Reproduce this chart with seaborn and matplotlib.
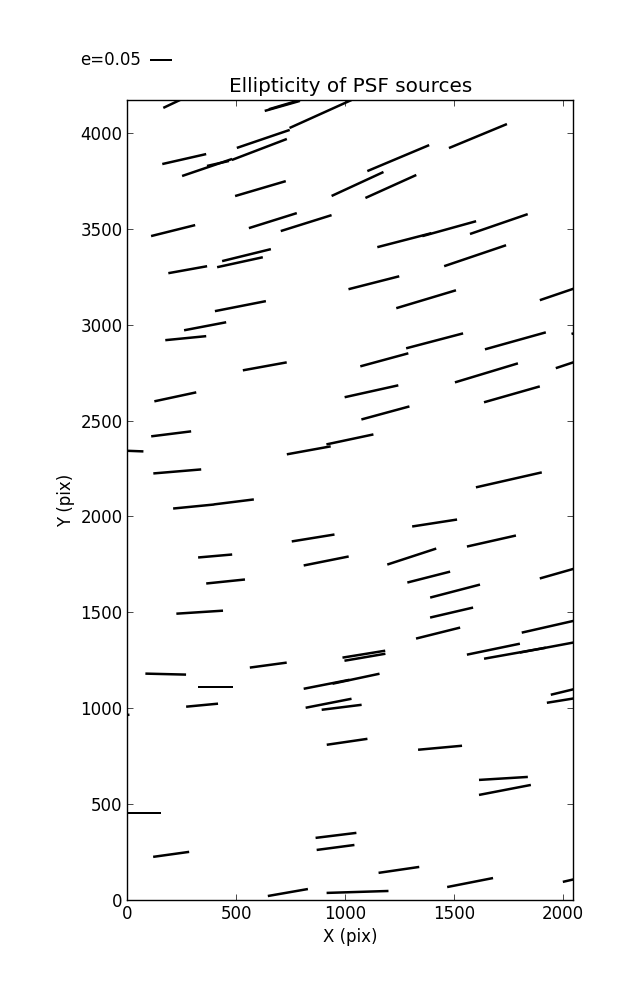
import numpy as np
import matplotlib
matplotlib.use('Agg')
import matplotlib.pyplot as plt
import seaborn as sns

# positions of the PSF stars on the chip (pix)
src_x = [208, 711, 728, 887, 624, 261, 366, 416, 606, 611,
         1057, 210, 668, 821, 277, 547, 517, 1132, 1610, 1244,
         1210, 1272, 1478, 1706, 1597, 1372, 1995, 519, 357, 268,
         631, 220, 201, 14, 229, 833, 1022, 304, 489, 1121,
         1411, 1180, 1782, 2155, 1649, 2043, 1766, 1185, 1752, 403,
         853, 913, 451, 332, 176, 405, 647, 1086, 1091, 915,
         1050, 924, 984, 1411, 1672, 1306, 1384, 2006, 1505, 1489,
         1427, 1942, 1681, 1780, 1937, 2020, 2011, 343, -57, 1009,
         59, 201, 958, 956, 737, 1057, 1436, 1727, 1734, 1247,
         1574, 2059]
src_y = [4154, 4141, 4150, 4099, 3969, 3864, 3820, 3841, 3914, 3710,
         3734, 3491, 3543, 3530, 3287, 3363, 3326, 3219, 3984, 3869,
         3721, 3441, 3501, 3525, 3360, 3133, 3167, 3097, 2992, 2930,
         2783, 2624, 2431, 2342, 2235, 2345, 2402, 2052, 2076, 2653,
         2916, 2817, 2916, 2987, 2749, 2802, 2637, 2540, 2191, 1794,
         1888, 1768, 1661, 1501, 1178, 1112, 1225, 1282, 1266, 1125,
         1154, 1026, 1005, 1966, 1872, 1791, 1684, 1713, 1611, 1499,
         1392, 1428, 1308, 1287, 1319, 1091, 1044, 1016, 961, 825,
         454, 238, 337, 274, 39, 42, 794, 634, 574, 157,
         91, 110]
# ellipticity and position angle (deg)
ellip = [0.048, 0.084, 0.082, 0.157, 0.129, 0.104, 0.122, 0.052, 0.136, 0.122,
         0.132, 0.105, 0.116, 0.123, 0.091, 0.116, 0.108, 0.121, 0.145, 0.155,
         0.129, 0.129, 0.129, 0.141, 0.151, 0.144, 0.107, 0.120, 0.099, 0.095,
         0.103, 0.099, 0.093, 0.060, 0.111, 0.103, 0.111, 0.095, 0.093, 0.127,
         0.136, 0.115, 0.146, 0.120, 0.152, 0.080, 0.134, 0.115, 0.156, 0.079,
         0.100, 0.106, 0.090, 0.108, 0.094, 0.081, 0.086, 0.100, 0.096, 0.108,
         0.111, 0.108, 0.093, 0.105, 0.116, 0.119, 0.102, 0.117, 0.119, 0.102,
         0.105, 0.135, 0.125, 0.145, 0.138, 0.078, 0.086, 0.074, 0.067, 0.095,
         0.097, 0.084, 0.095, 0.088, 0.094, 0.143, 0.102, 0.113, 0.122, 0.095,
         0.108, 0.061]
pos_angle = [25.3, 15.9, 16.5, 24.3, 18.8, 12.8, 18.8, 12.8, 20.9, 16.4,
             24.8, 14.0, 17.4, 17.4, 10.2, 13.8, 12.3, 14.3, 22.5, 22.8,
             24.3, 14.5, 15.5, 19.0, 18.7, 16.7, 18.8, 11.1, 10.8, 5.6,
             10.3, 12.1, 7.1, -2.2, 4.8, 10.3, 12.0, 5.6, 7.1, 12.5,
             14.7, 15.2, 15.6, 15.0, 16.8, 18.4, 15.9, 15.2, 12.8, 5.0,
             9.2, 11.3, 5.9, 3.7, -1.4, 0.0, 7.7, 9.2, 9.7, 11.1,
             12.0, 11.1, 7.1, 8.8, 12.7, 18.1, 14.3, 15.9, 14.6, 13.1,
             14.0, 12.8, 11.7, 10.1, 10.6, 13.6, 9.2, 5.4, 3.9, 8.3,
             0.0, 7.9, 7.0, 7.5, 9.9, 1.8, 5.2, 3.5, 10.9, 8.3,
             11.1, 13.0]

sns.set_style('ticks', {'axes.edgecolor': 'black', 'xtick.color': 'black',
                        'ytick.color': 'black', 'xtick.direction': 'in',
                        'ytick.direction': 'in', 'xtick.top': True,
                        'ytick.right': True, 'text.color': 'black',
                        'axes.labelcolor': 'black'})
plt.rcParams['font.family'] = ['DejaVu Sans']
plt.rcParams['font.size'] = 12
plt.rcParams['xtick.major.size'] = 4
plt.rcParams['ytick.major.size'] = 4
plt.rcParams['xtick.major.width'] = 0.5
plt.rcParams['ytick.major.width'] = 0.5

fig = plt.figure(figsize=(6.37, 10), dpi=100)
ax = fig.add_axes([0.2, 0.1, 0.7, 0.8])

theta = np.deg2rad(pos_angle)
u = np.array(ellip) * np.cos(theta)
v = np.array(ellip) * np.sin(theta)

# headless arrows = whiskers
q = ax.quiver(src_x, src_y, u, v, angles='uv', pivot='middle',
              headwidth=0, headlength=0, headaxislength=0,
              scale=1.03, scale_units='width', width=0.0056, color='black')
ax.quiverkey(q, 0.2355, 0.94, 0.05, 'e=0.05', labelpos='W', labelsep=0.09,
             coordinates='figure', fontproperties={'size': 12})

ax.set_xlim(0, 2048)
ax.set_ylim(0, 4172)
ax.set_xticks(range(0, 2001, 500))
ax.set_yticks(range(0, 4001, 500))
ax.tick_params(labelsize=12)
for s in ax.spines.values():
    s.set_linewidth(1.0)

ax.set_title('Ellipticity of PSF sources', fontsize=14.4)
ax.set_xlabel('X (pix)', fontsize=12)
ax.set_ylabel('Y (pix)', fontsize=12)

fig.savefig('out.png', dpi=100)
